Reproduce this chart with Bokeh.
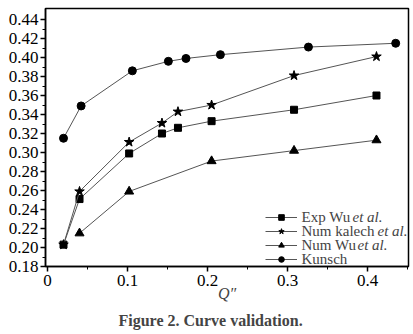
from bokeh.plotting import figure
from bokeh.models import (Range1d, FixedTicker, NumeralTickFormatter, Legend,
                          LegendItem, Label, Title)
from bokeh.embed import file_html
from bokeh.resources import INLINE

# Dimensionless flow Q'' against the validated quantity
exp_wu_x = [0.02, 0.04, 0.102, 0.143, 0.163, 0.205, 0.308, 0.411]
exp_wu_y = [0.203, 0.251, 0.299, 0.320, 0.326, 0.333, 0.345, 0.360]

kalech_x = [0.02, 0.04, 0.102, 0.143, 0.163, 0.205, 0.308, 0.411]
kalech_y = [0.203, 0.259, 0.311, 0.331, 0.343, 0.350, 0.381, 0.401]

num_wu_x = [0.04, 0.102, 0.205, 0.308, 0.411]
num_wu_y = [0.215, 0.259, 0.291, 0.302, 0.313]

kunsch_x = [0.02, 0.042, 0.106, 0.151, 0.173, 0.216, 0.326, 0.435]
kunsch_y = [0.315, 0.349, 0.386, 0.396, 0.399, 0.403, 0.411, 0.415]

series_names = ["Exp Wu", "Num kalech", "Num Wu", "Kunsch"]
series_suffix = ["et al.", "et al.", "et al.", ""]
x_ticks = [0, 0.1, 0.2, 0.3, 0.4]
x_tick_labels = ["0", "0.1", "0.2", "0.3", "0.4"]
y_ticks = [0.18, 0.20, 0.22, 0.24, 0.26, 0.28, 0.30, 0.32, 0.34, 0.36, 0.38, 0.40, 0.42, 0.44]

SERIF = "Liberation Serif"
LINE = "#555555"

p = figure(width=413, height=334, output_backend="svg", toolbar_location=None,
           x_range=Range1d(-0.0025, 0.451), y_range=Range1d(0.18, 0.4516),
           min_border_left=45, min_border_right=5, min_border_top=8, min_border_bottom=68)
p.xgrid.visible = False
p.ygrid.visible = False
p.outline_line_color = "black"
p.outline_line_width = 1.5
p.background_fill_color = "white"
p.border_fill_color = "white"

r_exp_l = p.line(exp_wu_x, exp_wu_y, line_color=LINE, line_width=1)
r_exp_m = p.scatter(exp_wu_x, exp_wu_y, marker="square", size=7, color="black")
r_kal_l = p.line(kalech_x, kalech_y, line_color=LINE, line_width=1)
r_kal_m = p.scatter(kalech_x, kalech_y, marker="star", size=10, color="black")
r_nwu_l = p.line(num_wu_x, num_wu_y, line_color=LINE, line_width=1)
r_nwu_m = p.scatter(num_wu_x, num_wu_y, marker="triangle", size=9, color="black")
r_kun_l = p.line(kunsch_x, kunsch_y, line_color=LINE, line_width=1)
r_kun_m = p.scatter(kunsch_x, kunsch_y, marker="circle", size=8, color="black")

for ax in (p.xaxis[0], p.yaxis[0]):
    ax.axis_line_width = 1.5
    ax.major_tick_line_width = 1.5
    ax.minor_tick_line_width = 1
    ax.major_tick_out = 5
    ax.major_tick_in = 0
    ax.minor_tick_out = 3
    ax.minor_tick_in = 0
    ax.major_label_text_font = SERIF
    ax.major_label_text_font_size = "17px"
    ax.major_label_text_color = "black"

p.xaxis.ticker = FixedTicker(ticks=x_ticks, minor_ticks=[0.05, 0.15, 0.25, 0.35, 0.45])
p.xaxis.major_label_overrides = dict(zip(x_ticks, x_tick_labels))
p.xaxis.major_label_standoff = 3
p.xaxis.axis_label = "Q″"
p.xaxis.axis_label_text_font = SERIF
p.xaxis.axis_label_text_font_style = "italic"
p.xaxis.axis_label_text_font_size = "16px"
p.xaxis.axis_label_standoff = -4

y_minor = [round(0.19 + 0.02 * i, 2) for i in range(13)]
p.yaxis.ticker = FixedTicker(ticks=y_ticks, minor_ticks=y_minor)
p.yaxis.formatter = NumeralTickFormatter(format="0.00")
p.yaxis.major_label_standoff = 2

# legend: glyph samples from Bokeh's legend, names written beside them
renderers = [[r_exp_l, r_exp_m], [r_kal_l, r_kal_m], [r_nwu_l, r_nwu_m], [r_kun_l, r_kun_m]]
row_y = [49.5, 35.5, 21.5, 7.5]
for rs, ry in zip(renderers, row_y):
    p.add_layout(Legend(items=[LegendItem(label="", renderers=rs)],
                        location=(220, ry - 7), border_line_color=None,
                        background_fill_alpha=0, padding=0, margin=0, spacing=0,
                        glyph_width=32, glyph_height=14, label_height=14,
                        label_width=0, label_standoff=0, label_text_font_size="1px"))

for name, suffix, ry in zip(series_names, series_suffix, row_y):
    p.add_layout(Label(x=256, y=ry, x_units="screen", y_units="screen",
                       text=name, text_font=SERIF, text_font_size="15px",
                       text_baseline="middle"))
    if suffix:
        width = {"Exp Wu": 51, "Num kalech": 76, "Num Wu": 56}[name]
        p.add_layout(Label(x=256 + width, y=ry, x_units="screen", y_units="screen",
                           text=suffix, text_font=SERIF, text_font_style="italic",
                           text_font_size="15px", text_baseline="middle"))

p.add_layout(Title(text="Figure 2. Curve validation.", align="left", offset=73,
                   text_font=SERIF, text_font_style="bold", text_font_size="16px",
                   standoff=10), "below")

open("out.html", "w").write(file_html(p, INLINE))
